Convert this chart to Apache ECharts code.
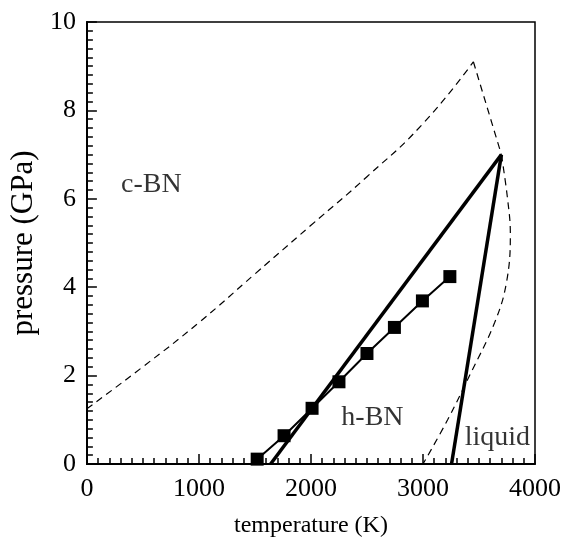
<!DOCTYPE html>
<html>
<head>
<meta charset="utf-8">
<script src="https://cdn.jsdelivr.net/npm/echarts@6/dist/echarts.min.js"></script>
<style>
  html, body { margin: 0; padding: 0; background: #fff; }
  #chart { width: 574px; height: 552px; }
</style>
</head>
<body>
<div id="chart"></div>
<script>
// c-BN / h-BN boundary (dashed, upper)
var cbnLine = [[0, 1.25], [500, 2.2], [1000, 3.2], [1500, 4.3], [2000, 5.4], [2500, 6.5], [3000, 7.7], [3450, 9.1]];
// straight dashed piece down to the triple point
var cbnTop = [[3450, 9.1], [3700, 7.0]];
// dashed melting curve
var meltDashed = [[3700, 7.0], [3755, 6.0], [3780, 5.2], [3745, 4.1], [3640, 3.2], [3435, 2.1], [3220, 1.0], [3000, 0]];
// thick solid boundaries
var hbnBoundary = [[1640, 0], [3700, 7.0]];
var liquidBoundary = [[3700, 7.0], [3255, 0]];
// squares
var sqTemp = [1520, 1760, 2010, 2250, 2500, 2745, 2995, 3240];
var sqPress = [0.11, 0.64, 1.26, 1.86, 2.5, 3.09, 3.69, 4.24];
// region labels
var regionNames = ['c-BN', 'h-BN', 'liquid'];
var regionPos = [[575, 6.31], [2549, 1.06], [3664, 0.59]];

var font = 'Liberation Serif';
var chart = echarts.init(document.getElementById('chart'));

var squares = [];
for (var i = 0; i < sqTemp.length; i++) {
  squares.push([sqTemp[i], sqPress[i]]);
}
var labels = [];
for (var i = 0; i < regionNames.length; i++) {
  labels.push({ value: regionPos[i], name: regionNames[i] });
}

var dashStyle = { color: '#000', width: 1.2, type: [7, 5] };

chart.setOption({
  backgroundColor: '#fff',
  animation: false,
  grid: {
    left: 83, right: 39, top: 22, bottom: 88,
    show: true, borderColor: '#000', borderWidth: 1.5
  },
  xAxis: {
    type: 'value', min: 0, max: 4000, interval: 1000,
    name: 'temperature (K)', nameLocation: 'middle', nameGap: 50,
    nameTextStyle: { fontFamily: font, fontSize: 24, color: '#000' },
    axisLine: { show: true, lineStyle: { color: '#000', width: 2 } },
    axisTick: { inside: true, length: 10, lineStyle: { color: '#000', width: 1.5 } },
    minorTick: { show: true, splitNumber: 10, length: 6, lineStyle: { color: '#000', width: 1.5 } },
    axisLabel: {
      fontFamily: font, fontSize: 26, color: '#000', margin: 12,
      formatter: function(v) { return String(v); }
    },
    splitLine: { show: false }
  },
  yAxis: {
    type: 'value', min: 0, max: 10, interval: 2,
    name: 'pressure (GPa)', nameLocation: 'middle', nameGap: 36,
    nameTextStyle: { fontFamily: font, fontSize: 31, color: '#000' },
    axisLine: { show: true, lineStyle: { color: '#000', width: 2 } },
    axisTick: { inside: true, length: 10, lineStyle: { color: '#000', width: 1.5 } },
    minorTick: { show: true, splitNumber: 10, length: 6, lineStyle: { color: '#000', width: 1.5 } },
    axisLabel: { fontFamily: font, fontSize: 26, color: '#000', margin: 11 },
    splitLine: { show: false }
  },
  series: [
    { type: 'line', data: cbnLine, smooth: true, symbol: 'none', lineStyle: dashStyle },
    { type: 'line', data: cbnTop, symbol: 'none', lineStyle: dashStyle },
    { type: 'line', data: meltDashed, smooth: 0.4, symbol: 'none', lineStyle: dashStyle },
    { type: 'line', data: hbnBoundary, symbol: 'none', lineStyle: { color: '#000', width: 3.5 } },
    { type: 'line', data: liquidBoundary, symbol: 'none', lineStyle: { color: '#000', width: 3.5 } },
    {
      type: 'line', data: squares, symbol: 'rect', symbolSize: 13,
      itemStyle: { color: '#000' }, lineStyle: { color: '#000', width: 2 }
    },
    {
      type: 'scatter', data: labels, symbolSize: 0, silent: true,
      label: {
        show: true, position: 'inside', formatter: '{b}',
        fontFamily: font, fontSize: 28, color: '#000'
      }
    }
  ]
});
</script>
</body>
</html>
